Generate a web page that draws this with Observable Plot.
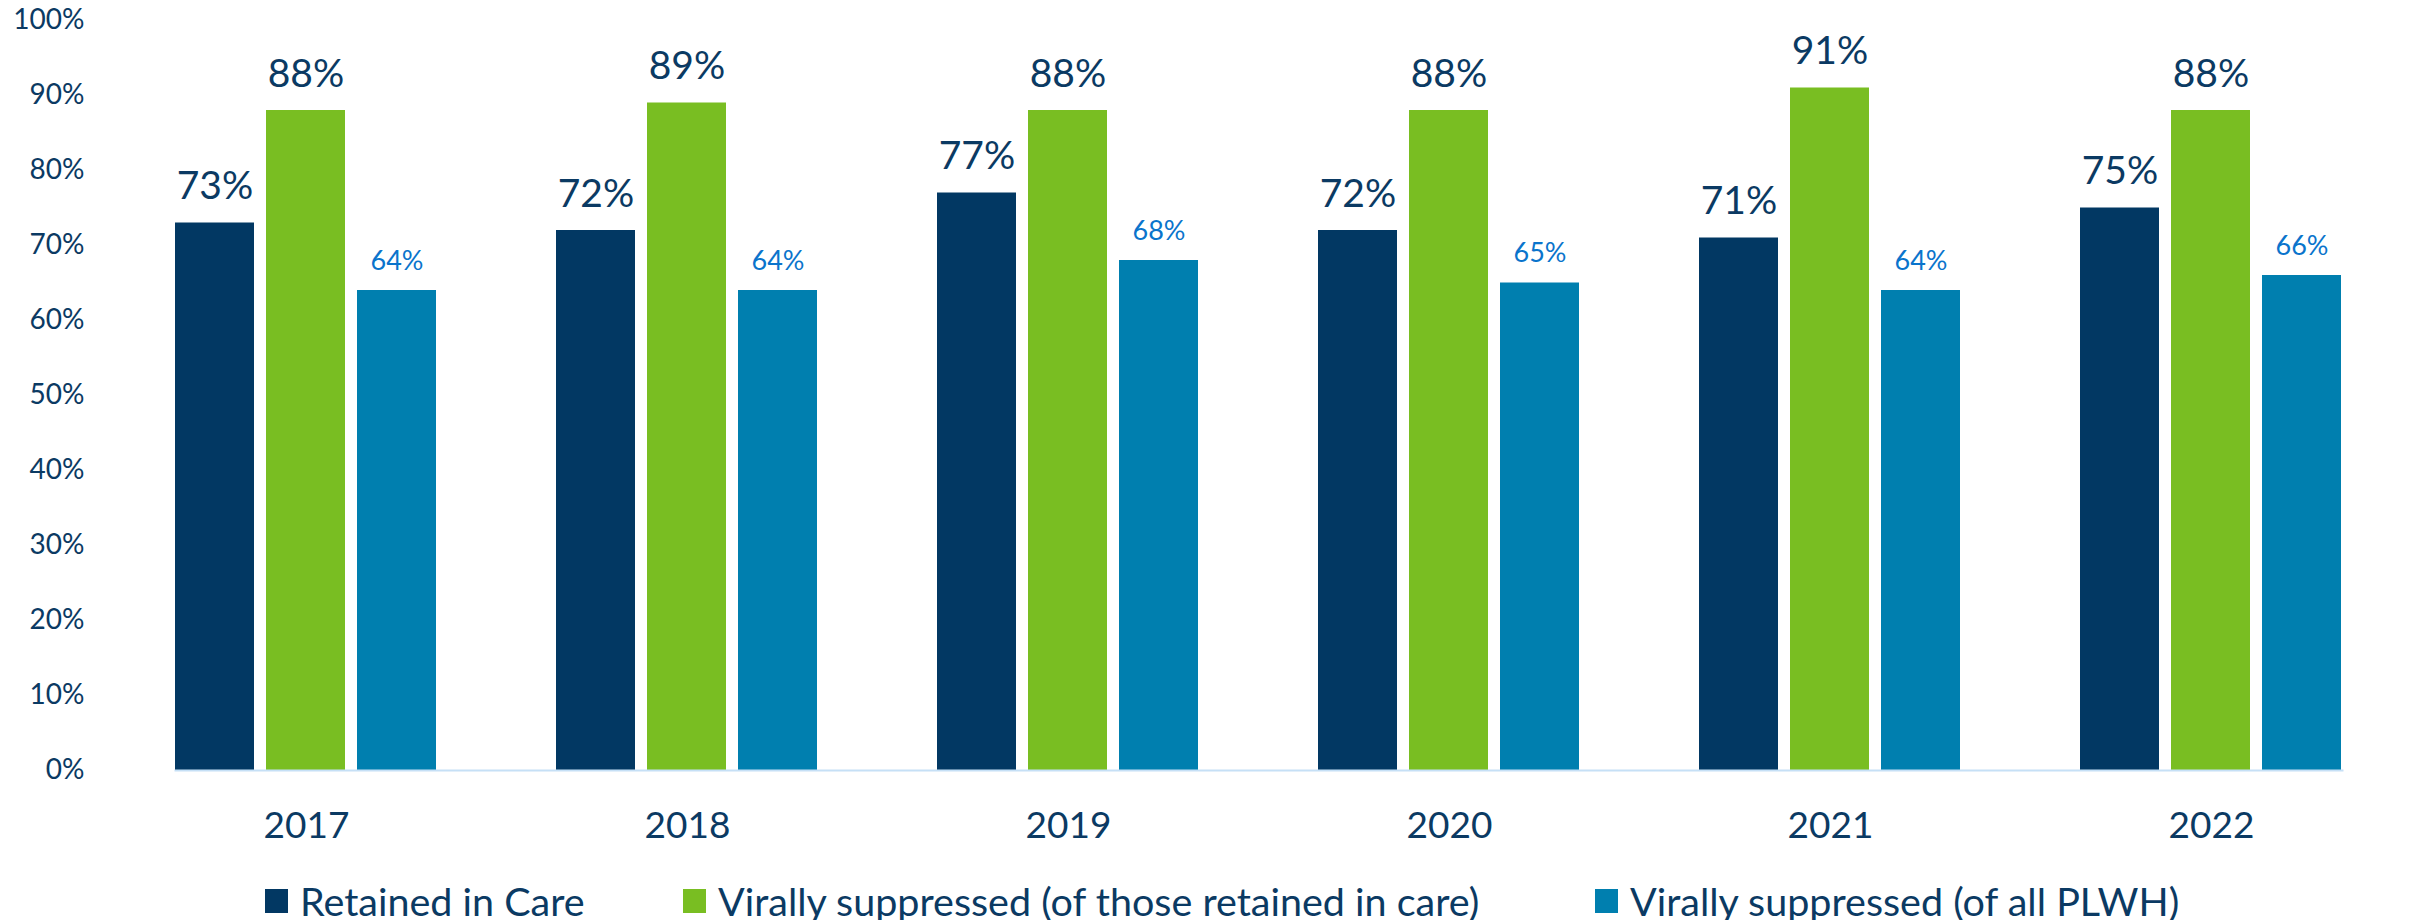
<!DOCTYPE html>
<html>
<head>
<meta charset="utf-8">
<script src="https://cdn.jsdelivr.net/npm/d3@7"></script>
<script src="https://cdn.jsdelivr.net/npm/@observablehq/plot@0.6"></script>
<style>
  html, body { margin: 0; padding: 0; background: #fff; }
  #chart { width: 2418px; }
  #legend { position: relative; width: 2418px; height: 60px; font-family: Lato, sans-serif; color: #0b3a63; }
  .item { position: absolute; top: 0; height: 80px; display: flex; align-items: center; font-size: 39.5px; white-space: nowrap; }
  .sw { width: 23px; height: 24px; margin-right: 12px; margin-top: 2px; }
</style>
</head>
<body>
<div id="chart"></div>
<div id="legend"></div>
<script>
const years = ["2017", "2018", "2019", "2020", "2021", "2022"];
const series = [
  "Retained in Care",
  "Virally suppressed (of those retained in care)",
  "Virally suppressed (of all PLWH)"
];
const retainedInCare = [73, 72, 77, 72, 71, 75];
const suppressedOfRetained = [88, 89, 88, 88, 91, 88];
const suppressedOfAll = [64, 64, 68, 65, 64, 66];
const yTicks = [0, 10, 20, 30, 40, 50, 60, 70, 80, 90, 100];

const colors = ["#023863", "#79be22", "#007faf"];
const navyText = "#0b3a63";
const tealText = "#0a74cc";

const valuesBySeries = [retainedInCare, suppressedOfRetained, suppressedOfAll];
const data = [];
years.forEach((yr, i) => {
  series.forEach((s, j) => {
    data.push({year: yr, series: s, idx: j, value: valuesBySeries[j][i]});
  });
});

const chart = Plot.plot({
  width: 2418,
  height: 860,
  marginTop: 20,
  marginBottom: 90,
  marginLeft: 114,
  marginRight: 15,
  style: {fontFamily: "Lato, sans-serif", color: navyText, background: "#fff"},
  fx: {domain: years, paddingInner: 0.313, paddingOuter: 0.157, label: null},
  x: {domain: series, paddingInner: 0.13, paddingOuter: 0, axis: null},
  y: {domain: [0, 100], axis: null},
  color: {domain: series, range: colors},
  marks: [
    Plot.axisY({ticks: yTicks, tickFormat: d => d + "%", tickSize: 0, tickPadding: 91, fontSize: 28, label: null, fill: navyText}),
    Plot.axisFx({anchor: "bottom", tickSize: 0, tickPadding: 41, fontSize: 37, label: null, fill: navyText}),
    Plot.barY(data, {fx: "year", x: "series", y: "value", fill: "series"}),
    Plot.frame({anchor: "bottom", facet: "super", stroke: "#c6e0f6", strokeWidth: 2}),
    Plot.text(data.filter(d => d.idx < 2), {fx: "year", x: "series", y: "value", text: d => d.value + "%", lineAnchor: "bottom", dy: -24, fontSize: 39, fill: navyText}),
    Plot.text(data.filter(d => d.idx === 2), {fx: "year", x: "series", y: "value", text: d => d.value + "%", lineAnchor: "bottom", dy: -21, fontSize: 27, fill: tealText})
  ]
});
document.getElementById("chart").appendChild(chart);

const legendLefts = [265, 683, 1595];
const legend = document.getElementById("legend");
series.forEach((s, j) => {
  const item = document.createElement("div");
  item.className = "item";
  item.style.left = legendLefts[j] + "px";
  const sw = document.createElement("span");
  sw.className = "sw";
  sw.style.background = colors[j];
  const label = document.createElement("span");
  label.textContent = s;
  item.appendChild(sw);
  item.appendChild(label);
  legend.appendChild(item);
});
</script>
</body>
</html>
